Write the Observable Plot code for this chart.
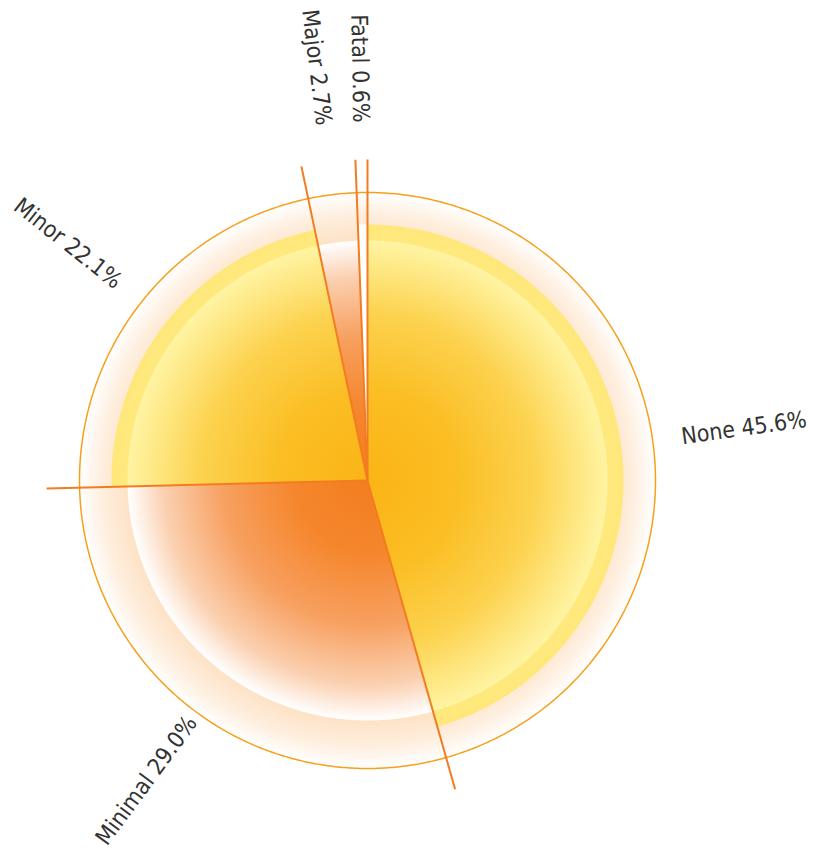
<!DOCTYPE html>
<html>
<head>
<meta charset="utf-8">
<script src="https://cdn.jsdelivr.net/npm/d3@7"></script>
<script src="https://cdn.jsdelivr.net/npm/@observablehq/plot@0.6"></script>
<style>
  body { margin: 0; background: #fff; }
</style>
</head>
<body>
<div id="chart"></div>
<script>
// Injury severity shares (percent of cases)
const categories = ["None", "Minimal", "Minor", "Major", "Fatal"];
const shares = [45.6, 29.0, 22.1, 2.7, 0.6];
const tones = ["yellow", "orange", "yellow", "orange", "white"];

// Layout (pixels)
const W = 815, H = 857, CX = 367, CY = 480, R = 288;
const sliceRadius = {yellow: 256 / R, orange: 240 / R, white: 256 / R};
const leaderLength = 321 / R;
// thin slices get their labels pushed past the leader lines;
// labels hanging below the pie sit a little closer so they stay on the page
const labelRadius = (i, mid) =>
  shares[i] < 5 ? 358 / R : Math.cos(mid) < -0.5 ? 296 / R : 317 / R;

const arcs = d3.pie().sort(null)(shares);
const deg = (a) => (a * 180) / Math.PI;

// Polygon outline of a wedge in unit coordinates (y up, angle clockwise from 12 o'clock)
function wedge(a0, a1, r, key) {
  const n = Math.max(2, Math.ceil((a1 - a0) / (Math.PI / 360)));
  const pts = [{key, x: 0, y: 0}];
  for (let k = 0; k <= n; k++) {
    const a = a0 + ((a1 - a0) * k) / n;
    pts.push({key, x: r * Math.sin(a), y: r * Math.cos(a)});
  }
  pts.push({key, x: 0, y: 0});
  return pts;
}

function ring(r) {
  const n = 720, pts = [];
  for (let k = 0; k <= n; k++) {
    const a = (2 * Math.PI * k) / n;
    pts.push({x: r * Math.sin(a), y: r * Math.cos(a)});
  }
  return pts;
}

const sliceMarks = arcs.map((a, i) => {
  const tone = tones[i];
  return Plot.line(wedge(a.startAngle, a.endAngle, sliceRadius[tone], categories[i]), {
    x: "x",
    y: "y",
    fill: tone === "white" ? "#ffffff" : `url(#grad-${tone})`,
    stroke: "none",
    curve: "linear"
  });
});

const labelData = arcs.map((a, i) => {
  const mid = (a.startAngle + a.endAngle) / 2;
  const right = mid < Math.PI;
  const r = labelRadius(i, mid);
  return {
    text: `${categories[i]} ${shares[i].toFixed(1)}%`,
    x: r * Math.sin(mid),
    y: r * Math.cos(mid),
    rotate: right ? deg(mid) - 90 : deg(mid) - 270,
    right
  };
});

const chart = Plot.plot({
  width: W,
  height: H,
  margin: 0,
  x: {domain: [-CX / R, (W - CX) / R], axis: null},
  y: {domain: [-(H - CY) / R, CY / R], axis: null},
  style: {fontFamily: "'DejaVu Sans Condensed', Roboto, sans-serif", background: "#fff"},
  marks: [
    // halo disc behind the slices
    Plot.line(ring(1), {x: "x", y: "y", fill: "url(#grad-halo)", stroke: "#f6a01c", strokeWidth: 1.5}),
    ...sliceMarks,
    // slice boundaries extended as leader lines
    Plot.link(arcs, {
      x1: () => 0,
      y1: () => 0,
      x2: (d) => leaderLength * Math.sin(d.startAngle),
      y2: (d) => leaderLength * Math.cos(d.startAngle),
      stroke: "#f47c20",
      strokeWidth: 2
    }),
    Plot.text(labelData.filter((d) => d.right), {
      x: "x", y: "y", text: "text", rotate: "rotate",
      textAnchor: "start", fontSize: 23, fontWeight: 300, fill: "#333"
    }),
    Plot.text(labelData.filter((d) => !d.right), {
      x: "x", y: "y", text: "text", rotate: "rotate",
      textAnchor: "end", fontSize: 23, fontWeight: 300, fill: "#333"
    })
  ]
});

// Radial gradients centred on the pie, sized through the position scales
const sx = chart.scale("x"), sy = chart.scale("y");
const cx = sx.apply(0), cy = sy.apply(0), unit = sx.apply(1) - sx.apply(0);
const gradients = [
  {id: "grad-halo", r: 1, stops: [[0, "#fcd3aa"], [0.83, "#fde2c5"], [0.92, "#feeedd"], [1, "#ffffff"]]},
  {id: "grad-yellow", r: sliceRadius.yellow, stops: [[0, "#fbb416"], [0.35, "#fbbe24"], [0.65, "#fcd24e"], [0.935, "#fff4a3"], [0.94, "#ffe97e"], [1, "#ffe77a"]]},
  {id: "grad-orange", r: sliceRadius.orange, stops: [[0, "#f47d20"], [0.3, "#f5862c"], [0.6, "#f7a060"], [0.85, "#fbd0b0"], [1, "#ffffff"]]}
];
const defs = d3.select(chart).insert("defs", ":first-child");
for (const g of gradients) {
  const rg = defs.append("radialGradient")
    .attr("id", g.id)
    .attr("gradientUnits", "userSpaceOnUse")
    .attr("cx", cx).attr("cy", cy).attr("r", g.r * unit);
  for (const [o, c] of g.stops) rg.append("stop").attr("offset", o).attr("stop-color", c);
}

document.getElementById("chart").appendChild(chart);
</script>
</body>
</html>
